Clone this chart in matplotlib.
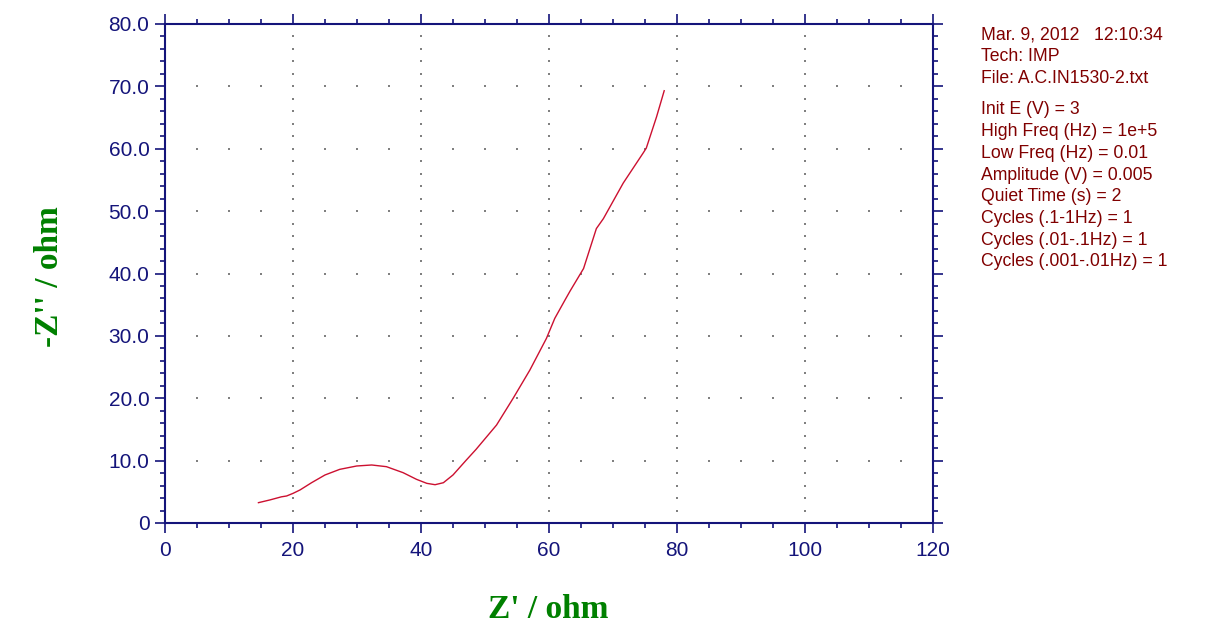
import numpy as np
import matplotlib
matplotlib.use("Agg")
import matplotlib.pyplot as plt
from matplotlib.ticker import MultipleLocator

# impedance data
z_real = [14.6, 16.4, 18.2, 19.0, 20.0, 21.1, 22.9, 25.0, 27.3, 29.95, 32.3, 34.6,
          37.2, 39.3, 40.9, 42.2, 43.5, 45.0, 47.0, 48.6, 51.8, 54.4, 57.0, 59.6,
          60.9, 62.5, 63.3, 65.4, 67.4, 68.5, 71.6, 74.7, 75.2, 76.8, 78.0]
z_imag = [3.26, 3.7, 4.2, 4.33, 4.75, 5.3, 6.46, 7.7, 8.6, 9.14, 9.3, 9.03,
          8.07, 7.0, 6.36, 6.14, 6.46, 7.7, 10.0, 11.8, 15.7, 20.0, 24.5, 29.6,
          32.8, 35.75, 37.2, 40.8, 47.2, 48.8, 54.5, 59.3, 60.1, 65.1, 69.3]

info_lines = ["Mar. 9, 2012   12:10:34", "Tech: IMP", "File: A.C.IN1530-2.txt"]
param_lines = ["Init E (V) = 3", "High Freq (Hz) = 1e+5", "Low Freq (Hz) = 0.01",
               "Amplitude (V) = 0.005", "Quiet Time (s) = 2", "Cycles (.1-1Hz) = 1",
               "Cycles (.01-.1Hz) = 1", "Cycles (.001-.01Hz) = 1"]

navy = "#14147a"
fig = plt.figure(figsize=(12.21, 6.28), dpi=100)
ax = fig.add_axes([165/1221, 1-523/628, (933-165)/1221, (523-24)/628])

ax.set_xlim(0, 120)
ax.set_ylim(0, 80)

# dotted grid: dots at major x / minor y and minor x / major y
gx = np.arange(20, 120, 20)
gy = np.arange(2, 80, 2)
X, Y = np.meshgrid(gx, gy)
ax.scatter(X.ravel(), Y.ravel(), s=0.7, c="#808080", marker="s", linewidths=0, zorder=1)
hx = np.arange(5, 120, 5)
hy = np.arange(10, 80, 10)
X, Y = np.meshgrid(hx, hy)
ax.scatter(X.ravel(), Y.ravel(), s=0.7, c="#808080", marker="s", linewidths=0, zorder=1)

ax.plot(z_real, z_imag, color="#cc1030", lw=1.0, zorder=3)

ax.xaxis.set_major_locator(MultipleLocator(20))
ax.xaxis.set_minor_locator(MultipleLocator(5))
ax.yaxis.set_minor_locator(MultipleLocator(2))
ax.set_yticks(np.arange(0, 90, 10))
ax.set_yticklabels(["0"] + ["%.1f" % v for v in np.arange(10, 90, 10)])

for s in ax.spines.values():
    s.set_color(navy)
    s.set_linewidth(1.5)

ax.tick_params(which="both", direction="out", colors=navy, top=True, right=True,
               labeltop=False, labelright=False, width=1.2)
ax.tick_params(which="major", length=7.2)
ax.tick_params(which="minor", length=3.6)
ax.tick_params(axis="x", labelsize=15, pad=6)
ax.tick_params(axis="y", labelsize=15, pad=4)
for lab in ax.get_xticklabels() + ax.get_yticklabels():
    lab.set_family("Liberation Sans")

fig.text(548/1221, 1-610/628, "Z' / ohm", color="#008000", family="Liberation Serif",
         weight="bold", fontsize=24, ha="center", va="center")
fig.text(50/1221, 1-277/628, "-Z'' / ohm", color="#008000", family="Liberation Serif",
         weight="bold", fontsize=24, ha="center", va="center", rotation=90)

y0 = 35
for i, t in enumerate(info_lines):
    fig.text(981/1221, 1-(y0+i*21.7)/628, t, color="#800000", family="Liberation Sans",
             fontsize=12.7, ha="left", va="center")
y1 = 110
for i, t in enumerate(param_lines):
    fig.text(981/1221, 1-(y1+i*21.7)/628, t, color="#800000", family="Liberation Sans",
             fontsize=12.7, ha="left", va="center")

fig.savefig("out.png", dpi=100, facecolor="white")
